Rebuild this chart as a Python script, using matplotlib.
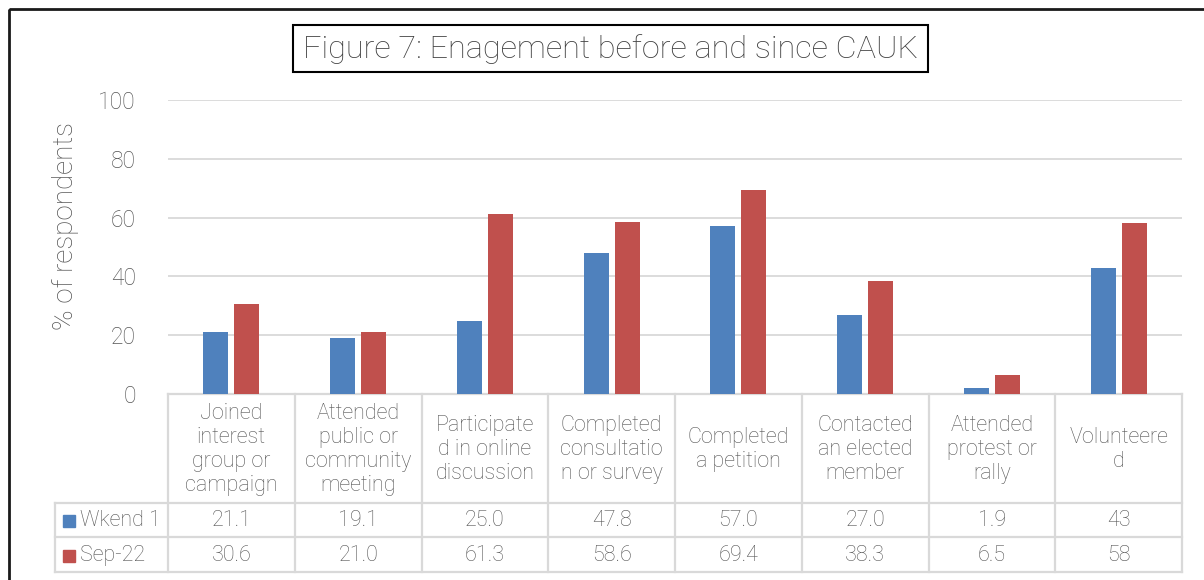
import matplotlib.pyplot as plt
import numpy as np
from matplotlib import patches

# data
categories = [
    "Joined\ninterest\ngroup or\ncampaign",
    "Attended\npublic or\ncommunity\nmeeting",
    "Participate\nd in online\ndiscussion",
    "Completed\nconsultatio\nn or survey",
    "Completed\na petition",
    "Contacted\nan elected\nmember",
    "Attended\nprotest or\nrally",
    "Volunteere\nd",
]
wkend1 = [21.1, 19.1, 25.0, 47.8, 57.0, 27.0, 1.9, 43]
sep22 = [30.6, 21.0, 61.3, 58.6, 69.4, 38.3, 6.5, 58]
wkend1_labels = ["21.1", "19.1", "25.0", "47.8", "57.0", "27.0", "1.9", "43"]
sep22_labels = ["30.6", "21.0", "61.3", "58.6", "69.4", "38.3", "6.5", "58"]
series_names = ["Wkend 1", "Sep-22"]
yticks = [0, 20, 40, 60, 80, 100]

BLUE = "#4F81BD"
RED = "#C0504D"
TXT = "#555555"
GRID = "#D9D9D9"
FS = 15.5

plt.rcParams['font.family'] = ['Roboto', 'DejaVu Sans']
plt.rcParams['font.weight'] = 'light'
plt.rcParams['axes.labelweight'] = 'light'

W, H = 1204, 580
fig = plt.figure(figsize=(W / 100, H / 100), dpi=100)

# overlay in pixel coords
ov = fig.add_axes([0, 0, 1, 1], zorder=0)
ov.set_xlim(0, W)
ov.set_ylim(H, 0)
ov.axis('off')

# plot area
x0, x1, ytop, ybot = 168, 1182, 100, 394
ax = fig.add_axes([x0 / W, 1 - ybot / H, (x1 - x0) / W, (ybot - ytop) / H], zorder=1)
ax.patch.set_alpha(0)
n = len(categories)
x = np.arange(n)
bw = 0.198
ax.bar(x - 0.122, wkend1, bw, color=BLUE, zorder=3)
ax.bar(x + 0.122, sep22, bw, color=RED, zorder=3)
ax.set_xlim(-0.5, n - 0.5)
ax.set_ylim(0, 100)
ax.set_yticks(yticks)
ax.set_yticklabels([str(t) for t in yticks], fontsize=16.5, color=TXT)
ax.tick_params(axis='y', length=0, pad=23)
ax.set_xticks([])
ax.grid(axis='y', color=GRID, linewidth=1.3, zorder=0)
for s in ax.spines.values():
    s.set_visible(False)
ax.set_ylabel("% of respondents", fontsize=20, color=TXT, fontweight='light')
ax.yaxis.set_label_coords((79 - x0) / (x1 - x0), (ybot - 225.5) / (ybot - ytop))

# outer border (cropped chart)
ov.add_patch(patches.Rectangle((9, 9), W + 20, H + 20, fill=False,
                               edgecolor="#1a1a1a", linewidth=2))

# title box
ov.add_patch(patches.Rectangle((293, 25), 635, 47, fill=False,
                               edgecolor="black", linewidth=1.5))
ov.text(610.5, 49, "Figure 7: Enagement before and since CAUK", fontsize=23.3,
        color="#404040", ha='center', va='center')

# data table
colw = (x1 - x0) / n
lx = 55
rows_y = [394, 503, 537, 572]
lc = dict(color=GRID, linewidth=1.6, zorder=2)
ov.plot([x0, x1], [rows_y[0]] * 2, **lc)
for yy in rows_y[1:]:
    ov.plot([lx, x1], [yy, yy], **lc)
for i in range(n + 1):
    ov.plot([x0 + i * colw] * 2, [rows_y[0], rows_y[-1]], **lc)
ov.plot([lx, lx], [rows_y[1], rows_y[-1]], **lc)

for i, cat in enumerate(categories):
    cx = x0 + (i + 0.5) * colw
    ov.text(cx, (rows_y[0] + rows_y[1]) / 2 + 1, cat, ha='center', va='center',
            fontsize=FS, color=TXT, linespacing=1.2)
    ov.text(cx, (rows_y[1] + rows_y[2]) / 2 + 1, wkend1_labels[i], ha='center',
            va='center', fontsize=FS, color=TXT)
    ov.text(cx, (rows_y[2] + rows_y[3]) / 2 + 1, sep22_labels[i], ha='center',
            va='center', fontsize=FS, color=TXT)

for j, (name, col) in enumerate(zip(series_names, [BLUE, RED])):
    cy = (rows_y[j + 1] + rows_y[j + 2]) / 2
    ov.add_patch(patches.Rectangle((63, cy - 5), 12, 12, color=col))
    ov.text(80, cy + 1, name, ha='left', va='center', fontsize=FS, color=TXT)

fig.savefig("out.png", dpi=100)
